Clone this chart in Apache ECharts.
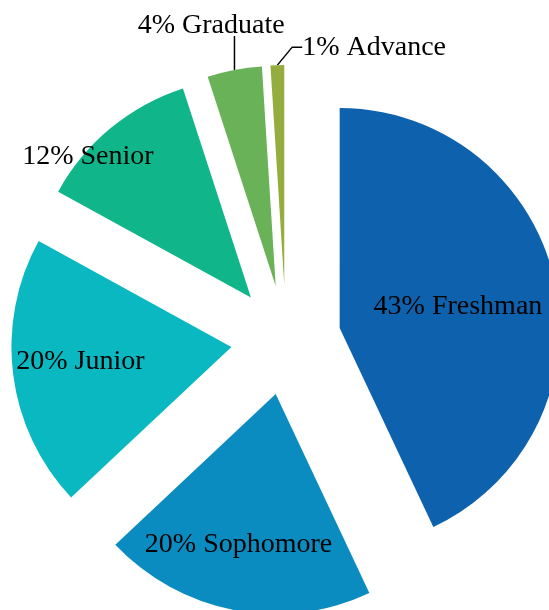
<!DOCTYPE html>
<html>
<head>
<meta charset="utf-8">
<script src="https://cdn.jsdelivr.net/npm/echarts@6/dist/echarts.min.js"></script>
<style>
  html, body { margin: 0; padding: 0; background: #fff; }
  #chart { width: 549px; height: 610px; }
</style>
</head>
<body>
<div id="chart"></div>
<script>
const classes = ['Freshman', 'Sophomore', 'Junior', 'Senior', 'Graduate', 'Advance']
const shares = [43, 20, 20, 12, 4, 1]
const colors = ['#0d61ad', '#0b8cc0', '#0ab8c1', '#10b689', '#6ab257', '#94ad3e']
// nudges for the labels, away from where echarts puts them by default
const labelShift = [[8, 3], [-16, 40], [-39, 1], [-91, -54], [67, -34], [184, -8]]
const outside = [false, false, false, false, true, true]

const cx = 286, cy = 340, explode = 55
const total = shares.reduce((a, b) => a + b, 0)

// one series per slice, each pushed out along its own middle angle
let acc = 0
const series = classes.map((name, i) => {
  const mid = ((acc + shares[i] / 2) / total) * 2 * Math.PI
  acc += shares[i]
  return {
    type: 'pie',
    center: [cx + explode * Math.sin(mid), cy - explode * Math.cos(mid)],
    radius: [0, 220],
    startAngle: 90,
    clockwise: true,
    silent: true,
    avoidLabelOverlap: false,
    itemStyle: { borderWidth: 0 },
    label: {
      position: outside[i] ? 'outside' : 'inside',
      fontFamily: 'Liberation Serif',
      fontSize: 28,
      color: '#000',
      overflow: 'none',
      formatter: (p) => p.value + '% ' + p.name,
    },
    labelLine: { show: outside[i], length: 10, length2: 10, lineStyle: { color: '#000', width: 1.5 } },
    labelLayout: (p) => {
      if (p.dataIndex !== i) return {}
      const r = p.labelRect
      const s = labelShift[i]
      const out = {
        x: r.x + r.width / 2 + s[0],
        y: r.y + r.height / 2 + s[1],
        align: 'center',
        verticalAlign: 'middle',
      }
      // graduate callout runs straight up from the slice into the text
      if (classes[i] === 'Graduate' && p.labelLinePoints) {
        const start = p.labelLinePoints[0]
        const bottom = out.y + r.height / 2 - 4
        out.labelLinePoints = [start, [start[0], bottom], [start[0], bottom]]
      }
      return out
    },
    data: classes.map((n, j) => ({
      name: n,
      value: shares[j],
      itemStyle: { color: j === i ? colors[j] : 'rgba(0,0,0,0)' },
      label: { show: j === i },
      labelLine: { show: j === i && outside[i] },
    })),
  }
})

const chart = echarts.init(document.getElementById('chart'))
chart.setOption({ backgroundColor: '#fff', animation: false, series })
</script>
</body>
</html>
